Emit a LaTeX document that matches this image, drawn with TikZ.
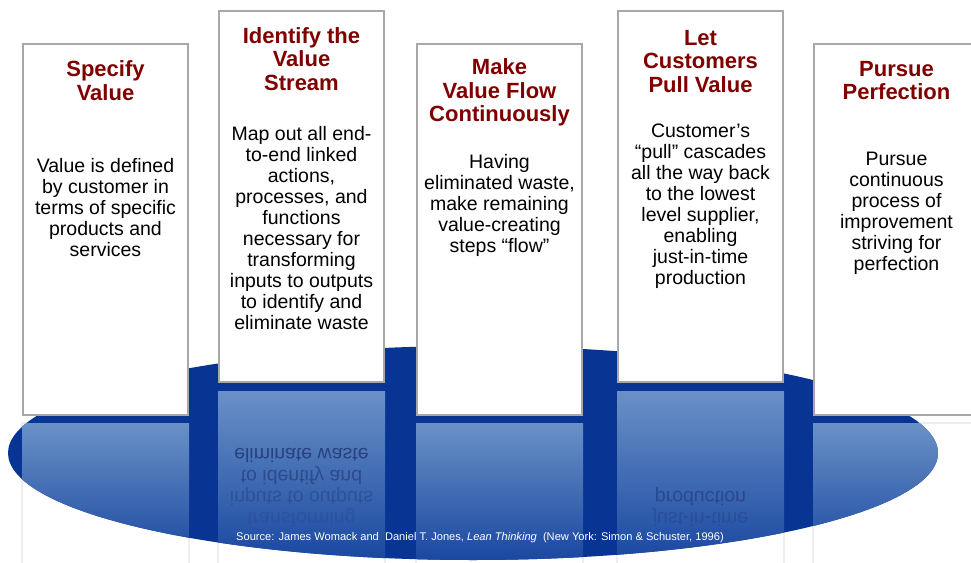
\documentclass[tikz,border=0pt]{standalone}
\usepackage{fontspec}
\setmainfont{Liberation Sans}
\definecolor{ellblue}{RGB}{8,52,148}
\definecolor{refltop}{RGB}{106,145,198}
\definecolor{reflbot}{RGB}{24,70,160}
\definecolor{titlered}{RGB}{128,0,0}
\definecolor{boxgray}{RGB}{168,168,168}
\definecolor{refltext}{RGB}{28,48,108}
\definecolor{faintgray}{RGB}{238,238,238}
\begin{document}
\begin{tikzpicture}[x=1bp,y=-1bp,
  box/.style={draw=boxgray, line width=2.5bp, fill=white, minimum width=165bp, minimum height=371bp, inner sep=0pt, outer sep=0pt},
  ttl/.style={text=titlered, font=\fontsize{22bp}{23.5bp}\selectfont\bfseries, align=center, inner sep=0pt},
  bdy/.style={text=black, font=\fontsize{19.5bp}{21bp}\selectfont, align=center, inner sep=0pt},
  rtxt/.style={text=refltext, font=\fontsize{19.5bp}{21bp}\selectfont, inner sep=0pt, yscale=-1},
  src/.style={text=white, font=\fontsize{11.1bp}{13bp}\selectfont, inner sep=0pt},
  faint/.style={draw=faintgray, line width=1.5bp}
]
\useasboundingbox (0,0) rectangle (971,563);
\clip (0,0) rectangle (971,563);
\fill[white] (0,0) rectangle (971,563);

% faint reflections of the box outlines outside the ellipse
\draw[faint] (22,563) -- (22,423) -- (189,423) -- (189,563);
\draw[faint] (218,563) -- (218,391) -- (385,391) -- (385,563);
\draw[faint] (416,563) -- (416,423) -- (583,423) -- (583,563);
\draw[faint] (617,563) -- (617,391) -- (784,391) -- (784,563);
\draw[faint] (813,563) -- (813,423) -- (980,423);

% the blue ellipse
\fill[ellblue] (473,453) ellipse [x radius=465bp, y radius=107bp];

% reflections inside the ellipse
\begin{scope}
  \clip (473,453) ellipse [x radius=465bp, y radius=107bp];
  \shade[top color=refltop, bottom color=reflbot] (22,423) rectangle (189,563);
  \shade[top color=refltop, bottom color=reflbot] (218,391) rectangle (385,563);
  \shade[top color=refltop, bottom color=reflbot] (416,423) rectangle (583,563);
  \shade[top color=refltop, bottom color=reflbot] (617,391) rectangle (784,563);
  \shade[top color=refltop, bottom color=reflbot] (813,423) rectangle (980,563);
  % mirrored text
  \node[rtxt, opacity=0.75] (r2a) at (301.5,455) {eliminate waste};
  \node[rtxt, opacity=0.55] (r2b) at (301.5,476) {to identify and};
  \node[rtxt, opacity=0.35] (r2c) at (301.5,497) {inputs to outputs};
  \node[rtxt, opacity=0.18] (r2d) at (301.5,518) {transforming};
  \node[rtxt, opacity=0.5] (r4a) at (700.5,497) {production};
  \node[rtxt, opacity=0.28] (r4b) at (700.5,518) {just-in-time};
\end{scope}

% boxes
\node[box] (b1) at (105.5,229.5) {};
\node[box] (b2) at (301.5,196.5) {};
\node[box] (b3) at (499.5,229.5) {};
\node[box] (b4) at (700.5,196.5) {};
\node[box] (b5) at (896.5,229.5) {};

% titles
\node[ttl] (t1) at (105.5,80.5) {Specify\\Value};
\node[ttl] (t2) at (301.5,59) {Identify the\\Value\\Stream};
\node[ttl] (t3) at (499.5,92.5) {Make\\Value Flow\\Continuously};
\node[ttl] (t4) at (700.5,61.5) {Let\\Customers\\Pull Value};
\node[ttl] (t5) at (896.5,80.5) {Pursue\\Perfection};

% body texts
\node[bdy] (d1) at (105.5,208) {Value is defined\\by customer in\\terms of specific\\products and\\services};
\node[bdy] (d2) at (301.5,228) {Map out all end-\\to-end linked\\actions,\\processes, and\\functions\\necessary for\\transforming\\inputs to outputs\\to identify and\\eliminate waste};
\node[bdy] (d3) at (499.5,205.5) {Having\\eliminated waste,\\make remaining\\value-creating\\steps “flow”};
\node[bdy] (d4) at (700.5,206.5) {Customer’s\\“pull” cascades\\all the way back\\to the lowest\\level supplier,\\enabling\\just-in-time\\production};
\node[bdy] (d5) at (896.5,213.5) {Pursue\\continuous\\process of\\improvement\\striving for\\perfection};

% source
\node[src] (s) at (480,538) {Source: James Womack and\ \ Daniel T. Jones, \textit{Lean Thinking}\ \ (New York: Simon \& Schuster, 1996)};
\end{tikzpicture}
\end{document}
